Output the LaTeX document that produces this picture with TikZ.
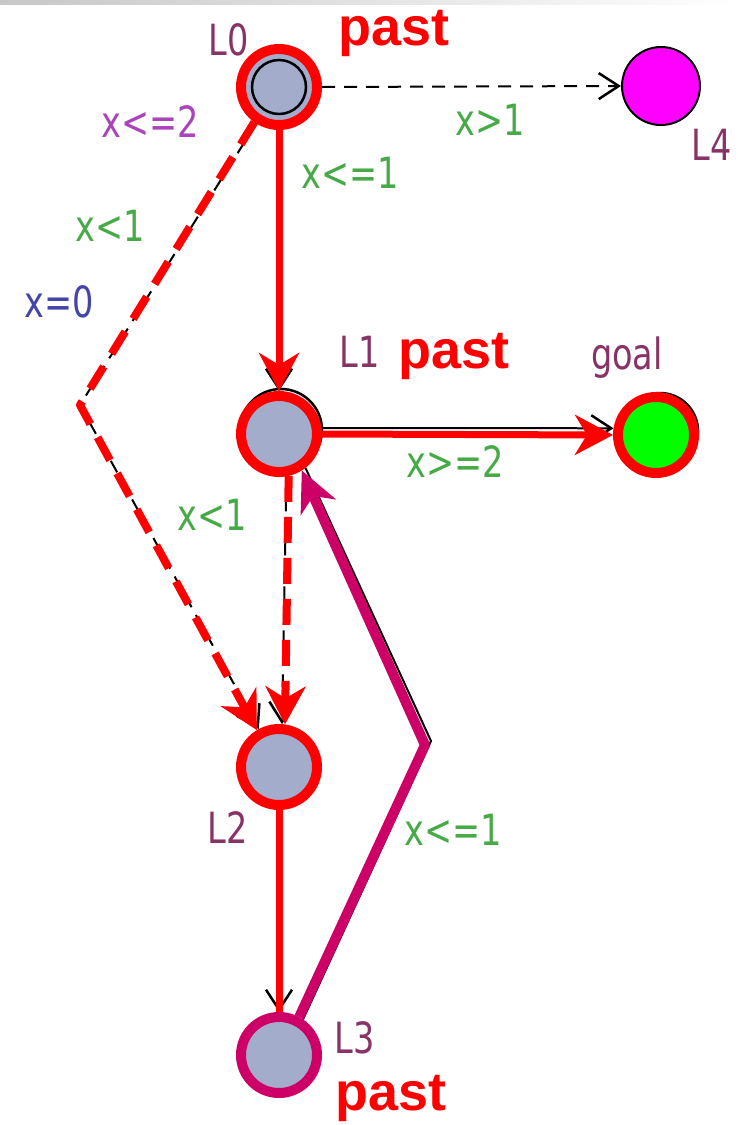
\documentclass[tikz,border=0pt]{standalone}
\usepackage{fontspec}
\newfontfamily\labfont[FakeStretch=0.78]{DejaVu Sans}
\newfontfamily\pastfont{Liberation Sans}
\usetikzlibrary{arrows.meta}
\definecolor{locgray}{RGB}{164,172,204}
\definecolor{guardgreen}{RGB}{70,170,70}
\definecolor{namecol}{RGB}{136,51,102}
\definecolor{guardpurple}{RGB}{170,68,187}
\definecolor{guardblue}{RGB}{68,68,170}
\definecolor{crimson}{RGB}{204,0,102}
\definecolor{goalgreen}{RGB}{0,255,0}
\definecolor{lfour}{RGB}{255,0,255}
\pgfdeclarelayer{bg}
\pgfsetlayers{bg,main}
\begin{document}
\begin{tikzpicture}[x=1pt,y=-1pt,
  loc/.style={circle,minimum size=76pt,inner sep=0pt,outer sep=5pt,fill=locgray,draw=red,line width=10pt},
  blk/.style={draw=black,line width=2pt,line join=round},
  redln/.style={draw=red,line width=7pt,line join=round},
  barb/.style={-{Straight Barb[length=20pt,width=26pt,line width=2.5pt]}},
  redhead/.style={-{Stealth[length=38pt,width=40pt,inset=12pt]}},
  blkdash/.style={dash pattern=on 13pt off 9pt},
  reddash/.style={dash pattern=on 26pt off 15pt},
  lab/.style={font=\labfont\fontsize{43}{50}\selectfont,inner sep=0pt},
  pastlab/.style={font=\pastfont\bfseries\fontsize{54}{60}\selectfont,text=red,inner sep=0pt,anchor=base west}]
\useasboundingbox (0,0) rectangle (738,1125);

% locations
\node[loc] (L0) at (279,87) {};
\node[circle,minimum size=78pt,inner sep=0pt,outer sep=1pt,fill=lfour,draw=black,line width=2pt] (L4) at (661,86) {};
\node[loc] (L1) at (279,434) {};
\node[loc,fill=goalgreen] (goal) at (656,435) {};
\node[loc] (L2) at (279,767) {};
\node[loc,draw=crimson] (L3) at (279,1055) {};
\draw[line width=2.5pt] (L0.center) circle[radius=27];

\coordinate (b1) at (80,405);
\coordinate (b2) at (425,745);
\coordinate (b2k) at (431,741);

\begin{pgfonlayer}{bg}
\fill[white] (0,0) rectangle (738,1125);
\shade[left color=black!22,right color=white] (0,0) rectangle (738,4);
% shadows of original circles
\draw[line width=2.5pt] (281,430) circle[radius=41];
\filldraw[fill=goalgreen,draw=black,line width=2.5pt] (660,431) circle[radius=38];

% L0 -> L4
\draw[blk,blkdash,barb] (L0.east) -- (L4.west);
% L0 -> L1
\draw[blk,barb] (L0.south) -- (L1.north);
\draw[redln,redhead] (L0.south) -- (L1.north);
% L0 -> L2 (bent)
\draw[blk,blkdash,barb] (L0.238) -- (b1) -- (L2.118);
\draw[redln,line width=8pt,reddash,redhead] (L0.235) -- (b1) -- (L2.121);
% L1 -> L2
\draw[blk,blkdash,barb] (L1.-80) -- (L2.86);
\draw[redln,line width=8pt,reddash,redhead] (L1.-77) -- (L2.82);
% L1 -> goal
\draw[blk,barb] (L1.8) -- (goal.171);
\draw[redln,redhead] (L1.east) -- (goal.west);
% L2 -> L3
\draw[blk,barb] (L2.south) -- (L3.north);
\draw[redln] (L2.south) -- (L3.north);
% L3 -> L1
\draw[blk] (L3.56) -- (b2k) -- (L1.-52);
\draw[draw=crimson,line width=10pt,line join=round,-{Stealth[length=40pt,width=38pt,inset=12pt]}] (L3.62) -- (b2) -- (L1.-58);
\end{pgfonlayer}

% labels
\node[lab,text=namecol] (tL0) at (229,40) {L0};
\node[lab,text=namecol] (tL4) at (712,145) {L4};
\node[lab,text=namecol] (tL1) at (360,352) {L1};
\node[lab,text=namecol] (tgoal) at (627,358) {goal};
\node[lab,text=namecol] (tL2) at (228,828) {L2};
\node[lab,text=namecol] (tL3) at (355,1038) {L3};

\node[lab,text=guardpurple] (g1) at (150,122) {x<=2};
\node[lab,text=guardgreen] (g2) at (490,120) {x>1};
\node[lab,text=guardgreen] (g3) at (350,173) {x<=1};
\node[lab,text=guardgreen] (g4) at (110,226) {x<1};
\node[lab,text=guardblue] (g5) at (59,302) {x=0};
\node[lab,text=guardgreen] (g6) at (455,462) {x>=2};
\node[lab,text=guardgreen] (g7) at (212,515) {x<1};
\node[lab,text=guardgreen] (g8) at (453,830) {x<=1};

\node[pastlab] (p1) at (338,45) {past};
\node[pastlab] (p2) at (398,368) {past};
\node[pastlab] (p3) at (335,1110) {past};
\end{tikzpicture}
\end{document}
